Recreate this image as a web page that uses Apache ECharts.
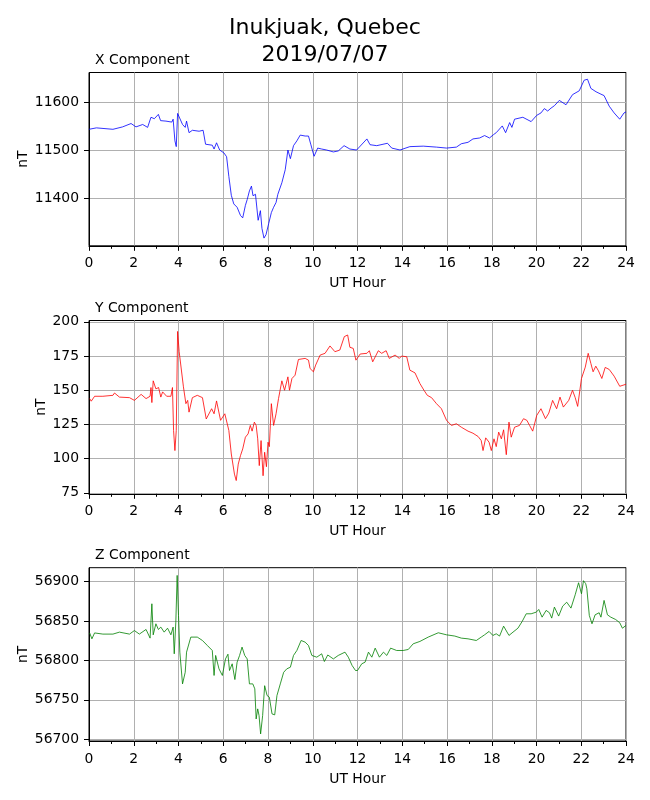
<!DOCTYPE html>
<html>
<head>
<meta charset="utf-8">
<script src="https://cdn.jsdelivr.net/npm/echarts@6/dist/echarts.min.js"></script>
<style>
  body { margin: 0; background: #fff; }
  #chart { width: 650px; height: 800px; }
</style>
</head>
<body>
<div id="chart"></div>
<script>
// Inukjuak magnetometer, 2019/07/07 -- [UT hour, nT]
var xComponent = [
    [0, 11544], [0.33, 11547], [1.07, 11544], [1.5, 11549], [1.88, 11556], [2.1, 11549], [2.4, 11554],
    [2.62, 11548], [2.77, 11569], [2.92, 11566], [3.1, 11575], [3.2, 11562], [3.44, 11561], [3.7, 11559],
    [3.76, 11565], [3.84, 11520], [3.9, 11508], [3.96, 11577], [4.03, 11574], [4.18, 11554], [4.3, 11548],
    [4.36, 11561], [4.47, 11537], [4.62, 11542], [4.92, 11540], [5.1, 11542], [5.21, 11513], [5.51, 11511],
    [5.59, 11503], [5.7, 11516], [5.84, 11501], [6.03, 11495], [6.15, 11487], [6.25, 11446], [6.36, 11407],
    [6.47, 11389], [6.62, 11382], [6.77, 11365], [6.87, 11360], [6.99, 11386], [7.07, 11398], [7.17, 11416],
    [7.26, 11426], [7.33, 11406], [7.44, 11409], [7.56, 11355], [7.66, 11375], [7.73, 11338], [7.82, 11318],
    [7.91, 11325], [8.03, 11348], [8.15, 11371], [8.25, 11382], [8.36, 11392], [8.44, 11409], [8.62, 11433],
    [8.77, 11460], [8.89, 11501], [9.0, 11483], [9.14, 11510], [9.29, 11520], [9.44, 11532], [9.66, 11530],
    [9.81, 11530], [9.91, 11513], [10.06, 11488], [10.22, 11505], [10.4, 11503], [10.62, 11501], [10.92, 11497],
    [11.14, 11499], [11.4, 11510], [11.66, 11503], [11.96, 11501], [12.42, 11524], [12.56, 11512], [12.86, 11510],
    [13.34, 11515], [13.53, 11505], [13.9, 11501], [14.34, 11508], [14.94, 11509], [15.53, 11507], [15.98, 11505],
    [16.42, 11507], [16.64, 11514], [16.94, 11517], [17.16, 11524], [17.46, 11526], [17.68, 11531], [17.9, 11526],
    [18.08, 11533], [18.2, 11537], [18.47, 11551], [18.62, 11537], [18.8, 11558], [18.9, 11548], [19.02, 11565],
    [19.39, 11569], [19.76, 11560], [20.01, 11573], [20.2, 11578], [20.35, 11587], [20.5, 11582], [20.65, 11588],
    [20.8, 11593], [21.02, 11604], [21.32, 11595], [21.61, 11616], [21.91, 11624], [22.13, 11646], [22.28, 11648],
    [22.43, 11629], [22.66, 11622], [22.88, 11617], [23.02, 11614], [23.25, 11592], [23.47, 11578], [23.72, 11565],
    [23.91, 11578], [24, 11580]
];
var yComponent = [
    [0.03, 143.9], [0.1, 142], [0.25, 145.6], [0.62, 145.6], [1.07, 146.3], [1.14, 148], [1.36, 145], [1.81, 144.6],
    [2.03, 142.6], [2.33, 147], [2.55, 143.9], [2.73, 145.6], [2.77, 152], [2.81, 141], [2.87, 156.9], [2.99, 151],
    [3.11, 152], [3.21, 145], [3.29, 148.8], [3.47, 145.6], [3.66, 145.6], [3.73, 152], [3.78, 120.6], [3.84, 105.9],
    [3.9, 120.6], [3.96, 193], [4.03, 178.2], [4.1, 177], [4.22, 152.5], [4.33, 140.2], [4.41, 142.6], [4.47, 134],
    [4.62, 144.6], [4.84, 146.3], [5.07, 144.6], [5.24, 129], [5.48, 136.5], [5.59, 132.8], [5.7, 142.2], [5.88, 128],
    [6.07, 132.8], [6.25, 120.6], [6.36, 103.4], [6.43, 104.7], [6.5, 88.7], [6.58, 84], [6.67, 96], [6.77, 102.2],
    [6.87, 107.1], [6.99, 115.7], [7.11, 118.1], [7.21, 124.3], [7.29, 120.1], [7.39, 126.7], [7.47, 124.3],
    [7.54, 114.5], [7.61, 94.9], [7.69, 113.2], [7.78, 87.5], [7.85, 104.7], [7.93, 94.1], [8.0, 112], [8.06, 108.8],
    [8.15, 140.2], [8.25, 124.3], [8.36, 132.8], [8.47, 143.9], [8.55, 142.6], [8.62, 156.9], [8.74, 150],
    [8.89, 159.8], [8.96, 150], [9.07, 158.6], [9.21, 161], [9.36, 172.5], [9.66, 173.3], [9.81, 172], [9.88, 165.9],
    [10.03, 163.5], [10.13, 168.4], [10.33, 175.7], [10.55, 177], [10.77, 182.4], [10.99, 178.2], [11.21, 179.4],
    [11.41, 189.2], [11.56, 190.4], [11.66, 181.4], [11.81, 180.6], [11.93, 172], [12.0, 172.5], [12.12, 176.5],
    [12.42, 177], [12.53, 178.9], [12.68, 170.8], [12.93, 178.9], [13.08, 177], [13.28, 178.9], [13.42, 173.3],
    [13.68, 175.7], [13.87, 173.3], [13.97, 175], [14.2, 174.5], [14.34, 164.7], [14.57, 162.7], [14.79, 154.9],
    [14.97, 150], [15.12, 146.3], [15.31, 144.6], [15.53, 140.2], [15.75, 136.5], [15.98, 128], [16.2, 124.3],
    [16.42, 125.5], [16.64, 123], [16.94, 120.1], [17.16, 118.6], [17.39, 116.2], [17.53, 113.2], [17.61, 105.9],
    [17.73, 115.2], [17.88, 112], [17.98, 105.9], [18.1, 114.5], [18.2, 108.8], [18.31, 119.4], [18.43, 114.5],
    [18.53, 121.1], [18.65, 102.9], [18.77, 126.7], [18.87, 115.7], [19.02, 123], [19.24, 124.3], [19.42, 129.2],
    [19.57, 128], [19.69, 124.3], [19.83, 120.1], [20.01, 131.6], [20.2, 136.5], [20.4, 129.2], [20.55, 133.3],
    [20.72, 142.6], [20.9, 136.5], [21.05, 145], [21.2, 137.7], [21.44, 142.6], [21.61, 150], [21.73, 144.6],
    [21.84, 138.2], [22.01, 158.6], [22.18, 166.9], [22.31, 177], [22.43, 169.6], [22.53, 163.5], [22.65, 167.6],
    [22.77, 164.2], [22.92, 158.6], [23.07, 166.7], [23.25, 165.2], [23.47, 160.3], [23.72, 152.9], [24, 154.4]
];
var zComponent = [
    [0.03, 56835], [0.13, 56827.5], [0.25, 56835], [0.62, 56833.5], [1.07, 56833.5], [1.36, 56836], [1.81, 56833.5],
    [2.03, 56838], [2.25, 56833.5], [2.55, 56839.4], [2.73, 56828.4], [2.81, 56872], [2.87, 56832.6], [2.99, 56846.6],
    [3.1, 56839.4], [3.21, 56842.4], [3.36, 56836], [3.51, 56841], [3.66, 56832.6], [3.76, 56842.4], [3.81, 56808.5],
    [3.88, 56848.7], [3.94, 56908], [4.0, 56857], [4.06, 56810.6], [4.18, 56770.3], [4.3, 56785], [4.36, 56810.6],
    [4.44, 56808.5], [4.55, 56829.7], [4.84, 56829.7], [5.07, 56825.4], [5.29, 56819], [5.51, 56812.7], [5.59, 56781],
    [5.66, 56806.4], [5.81, 56789.4], [5.96, 56781], [6.1, 56802], [6.21, 56808], [6.28, 56787.3], [6.4, 56795.8],
    [6.52, 56775.8], [6.62, 56797.9], [6.73, 56806.4], [6.84, 56817], [6.96, 56806.4], [7.07, 56802], [7.17, 56770.3],
    [7.32, 56770.3], [7.41, 56764], [7.47, 56725.8], [7.54, 56738.6], [7.6, 56730], [7.67, 56706.8], [7.76, 56730],
    [7.85, 56768], [7.96, 56755.5], [8.06, 56753.4], [8.18, 56732.2], [8.3, 56731], [8.4, 56755.5], [8.55, 56770.3],
    [8.7, 56785], [8.84, 56789.4], [9.0, 56791.5], [9.14, 56806.4], [9.29, 56812.7], [9.48, 56825.4], [9.66, 56823.3],
    [9.81, 56819], [9.96, 56806.4], [10.18, 56804.2], [10.4, 56808.5], [10.52, 56798.7], [10.67, 56807],
    [10.92, 56802], [11.14, 56806.4], [11.44, 56810.6], [11.59, 56804.2], [11.76, 56793.6], [11.91, 56787.3],
    [12.0, 56787.3], [12.19, 56795.8], [12.34, 56797.9], [12.49, 56810.6], [12.64, 56804.2], [12.79, 56815.7],
    [12.98, 56804.2], [13.16, 56810.6], [13.31, 56806.4], [13.48, 56815.7], [13.75, 56812.7], [14.04, 56812.7],
    [14.27, 56814], [14.49, 56821.2], [14.79, 56824.2], [15.16, 56829.7], [15.61, 56835.2], [15.98, 56832.6],
    [16.35, 56831], [16.64, 56828.4], [16.94, 56827.5], [17.31, 56825.4], [17.53, 56829.7], [17.68, 56832.6],
    [17.88, 56836.9], [18.05, 56831.8], [18.2, 56833.9], [18.35, 56831], [18.53, 56843.6], [18.77, 56831.8],
    [18.95, 56836], [19.17, 56841], [19.36, 56849.6], [19.54, 56859.3], [19.76, 56859.3], [19.99, 56861.4],
    [20.1, 56864.8], [20.25, 56855], [20.43, 56863.6], [20.58, 56860.6], [20.68, 56853.8], [20.8, 56867.8],
    [20.99, 56856.4], [21.17, 56869], [21.35, 56874], [21.54, 56866.5], [21.73, 56883.5], [21.88, 56898.7],
    [22.01, 56884.7], [22.1, 56901.3], [22.2, 56897.5], [22.25, 56891], [22.36, 56857.2], [22.48, 56846.6],
    [22.62, 56858], [22.8, 56860.6], [22.88, 56855], [23.02, 56876.3], [23.17, 56858], [23.32, 56855],
    [23.54, 56852], [23.72, 56847.9], [23.84, 56841], [24, 56844.5]
];

var panelTitles = ['X Component', 'Y Component', 'Z Component'];
var panelColors = ['#0000ff', '#ff0000', '#008000'];
var panelData = [xComponent, yComponent, zComponent];
var yRanges = [[11302, 11662], [74.3, 201], [56697.8, 56917.8]];
var yStep = [100, 25, 50];

var FONT = 'DejaVu Sans';
var tops = [72.5, 320.5, 567.7];
var plotH = 173.3;
var nameGaps = [59, 41, 59];   // ylabel sits next to the widest tick label

var myChart = echarts.init(document.getElementById('chart'), null, { renderer: 'canvas' });

// tick marks only at the round values, not at the padded axis ends
function roundTicks(range, step) {
    var out = [];
    for (var v = Math.ceil(range[0] / step) * step; v <= range[1]; v += step) out.push(v);
    return out;
}

var grids = [], xAxes = [], yAxes = [], series = [];
var titles = [{
    text: 'Inukjuak, Quebec\n2019/07/07',
    left: 'center',
    top: 14.5,
    padding: 0,
    textStyle: { fontFamily: FONT, fontSize: 22, fontWeight: 'normal', color: '#000', lineHeight: 27 }
}];

for (var i = 0; i < 3; i++) {
    grids.push({
        left: 89, width: 537, top: tops[i], height: plotH,
        show: true, borderColor: '#000', borderWidth: 1, backgroundColor: 'transparent'
    });
    titles.push({
        text: panelTitles[i],
        left: 95,
        top: tops[i] - 19,
        padding: 0,
        textStyle: { fontFamily: FONT, fontSize: 13.9, fontWeight: 'normal', color: '#000' }
    });
    xAxes.push({
        gridIndex: i,
        type: 'value',
        min: 0, max: 24, interval: 2,
        name: 'UT Hour',
        nameLocation: 'middle',
        nameGap: 31,
        nameTextStyle: { fontFamily: FONT, fontSize: 13.9, color: '#000' },
        axisLine: { onZero: false, lineStyle: { color: '#000', width: 1 } },
        axisTick: { length: 5, lineStyle: { color: '#000' } },
        minorTick: { show: true, splitNumber: 2, length: 3, lineStyle: { color: '#000' } },
        axisLabel: { fontFamily: FONT, fontSize: 13.9, color: '#000', margin: 11 },
        splitLine: { show: true, lineStyle: { color: '#b0b0b0', width: 1 } }
    });
    (function (step) {
        yAxes.push({
            gridIndex: i,
            type: 'value',
            min: yRanges[i][0], max: yRanges[i][1],
            minInterval: step, maxInterval: step,
            name: 'nT',
            nameLocation: 'middle',
            nameRotate: 90,
            nameGap: nameGaps[i],
            nameMoveOverlap: false,
            nameTextStyle: { fontFamily: FONT, fontSize: 13.9, color: '#000' },
            axisLine: { show: true, lineStyle: { color: '#000', width: 1 } },
            axisTick: { show: true, length: 5, lineStyle: { color: '#000' }, customValues: roundTicks(yRanges[i], step) },
            axisLabel: {
                fontFamily: FONT, fontSize: 13.9, color: '#000', margin: 10,
                formatter: function (v) { return Math.abs(v / step - Math.round(v / step)) < 1e-6 ? String(v) : ''; }
            },
            splitLine: { show: true, lineStyle: { color: '#b0b0b0', width: 1 } }
        });
    })(yStep[i]);
    series.push({
        type: 'line',
        xAxisIndex: i,
        yAxisIndex: i,
        data: panelData[i],
        showSymbol: false,
        symbol: 'none',
        animation: false,
        lineStyle: { color: panelColors[i], width: 0.8 }
    });
}

var chartOption = {
    backgroundColor: '#fff',
    animation: false,
    title: titles,
    grid: grids,
    xAxis: xAxes,
    yAxis: yAxes,
    series: series
};
myChart.setOption(chartOption);
</script>
</body>
</html>
